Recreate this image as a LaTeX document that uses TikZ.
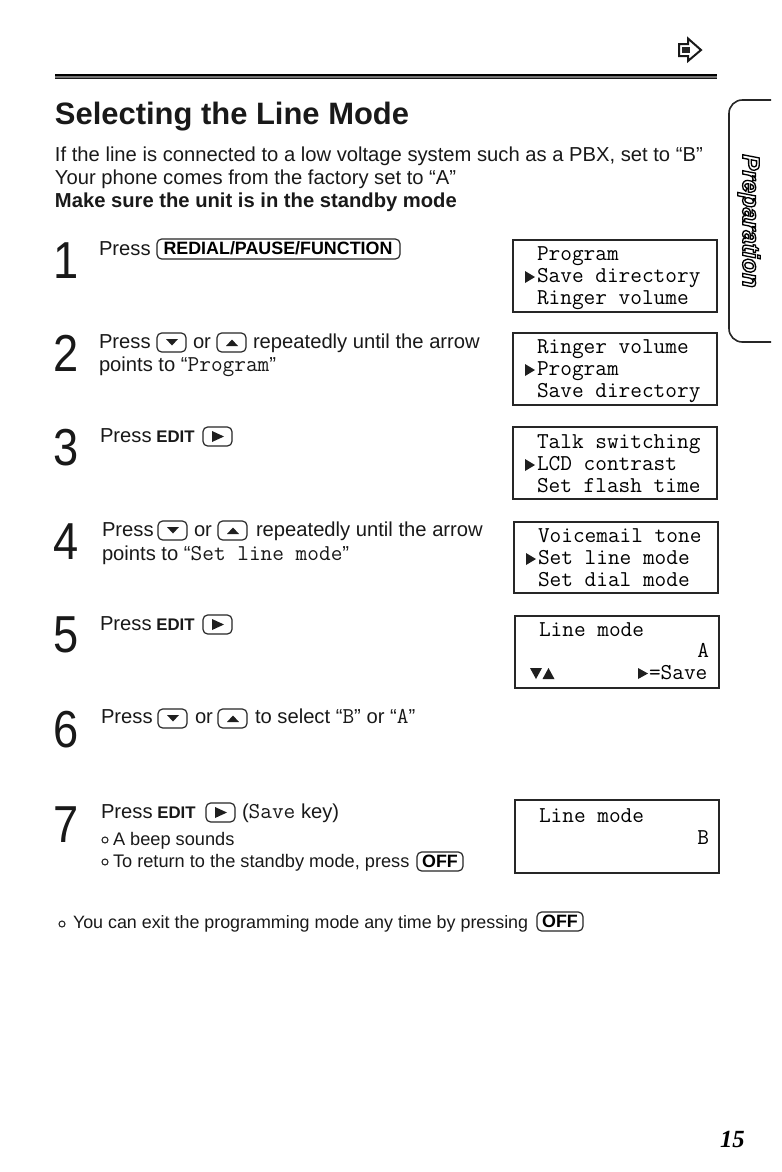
\documentclass[tikz,border=0pt]{standalone}
\usepackage{fontspec}
\setmainfont{Liberation Sans}
\newfontfamily\serifnum{Liberation Serif}
\newfontfamily\numfont[FakeStretch=0.87]{Liberation Sans}
\newcommand{\im}[1]{{\fontsize{17pt}{16pt}\selectfont\ttfamily #1}}
\newcommand{\ed}{{\fontsize{12.6pt}{16pt}\selectfont\bfseries EDIT}}
\tikzset{
  x=0.75pt,y=-0.75pt,
  txt/.style={anchor=base west,inner sep=0pt,outer sep=0pt,font=\fontsize{15.15pt}{16pt}\selectfont,text=black!90},
  title/.style={txt,font=\fontsize{23.2pt}{26pt}\selectfont\bfseries},
  small/.style={txt,font=\fontsize{13.65pt}{15pt}\selectfont},
  monot/.style={txt,font=\fontsize{17pt}{16pt}\selectfont\ttfamily,text=black},
  num/.style={txt,font=\fontsize{39pt}{40pt}\selectfont\numfont},
  lcd/.style={draw=black!85,line width=1pt},
  keybox/.style={draw=black!85,line width=0.9pt,rounded corners=3.5pt},
  keylabel/.style={anchor=base,inner sep=0pt,font=\fontsize{13.4pt}{15pt}\selectfont\bfseries},
  tri/.style={fill=black!88},
  ring/.style={draw=black!85,line width=0.8pt,circle,inner sep=0pt,minimum size=4.5pt},
}
\newcommand{\keydown}[3]{%
  \draw[keybox] (#2,#3) rectangle ++(29,19);
  \fill[tri] (#2+9,#3+6) -- ++(12,0) -- ++(-6,6.5) -- cycle;
}
\newcommand{\keyup}[3]{%
  \draw[keybox] (#2,#3) rectangle ++(29,19);
  \fill[tri] (#2+9,#3+13) -- ++(12,0) -- ++(-6,-6.5) -- cycle;
}
\newcommand{\keyright}[3]{%
  \draw[keybox] (#2,#3) rectangle ++(29,19);
  \fill[tri] (#2+9,#3+4) -- ++(0,11) -- ++(12,-5.5) -- cycle;
}
\begin{document}
\begin{tikzpicture}
\useasboundingbox (0,0) rectangle (782,1172);
\fill[white] (0,0) rectangle (782,1172);

% top icon and rule
\draw[line width=1.5pt,black!90,line join=miter] (679,44) -- (688,44) -- (688,38.5) -- (701,50) -- (688,61) -- (688,56) -- (679,56) -- cycle;
\fill[black!85] (682,47) rectangle (690,53);
\fill[black!55] (55,74.5) rectangle (717,79);
\fill[black] (55,74) rectangle (717,75.6);
\fill[black!90] (55,78) rectangle (717,79.4);

% heading
\node[title] (heading) at (55,124) {Selecting the Line Mode};
\node[txt] (intro1) at (55,161) {If the line is connected to a low voltage system such as a PBX, set to “B”};
\node[txt] (intro2) at (55,184) {Your phone comes from the factory set to “A”};
\node[txt,font=\fontsize{15.15pt}{16pt}\selectfont\bfseries] (intro3) at (55,207) {Make sure the unit is in the standby mode};

% step 1
\node[num] (n1) at (53,278) {1};
\node[txt] (s1) at (99,255) {Press};
\draw[keybox] (157,239) rectangle (400,259);
\node[keylabel] (k1) at (278,254.5) {REDIAL/PAUSE/FUNCTION};

% step 2
\node[num] (n2) at (53,371) {2};
\node[txt] (s2a) at (99,348) {Press};
\keydown{k2a}{157}{333}
\node[txt] (s2b) at (193,348) {or};
\keyup{k2b}{217}{333}
\node[txt] (s2c) at (253,348) {repeatedly until the arrow};
\node[txt] (s2d) at (99,371) {points to “\im{Program}”};

% step 3
\node[num] (n3) at (53,465) {3};
\node[txt] (s3) at (100,442) {Press\hspace{3.5pt}\ed};
\keyright{k3}{203}{427}

% step 4
\node[num] (n4) at (53,559) {4};
\node[txt] (s4a) at (102,536) {Press};
\keydown{k4a}{158}{521}
\node[txt] (s4b) at (194,536) {or};
\keyup{k4b}{218}{521}
\node[txt] (s4c) at (256,536) {repeatedly until the arrow};
\node[txt] (s4d) at (102,560) {points to “\im{Set line mode}”};

% step 5
\node[num] (n5) at (53,652) {5};
\node[txt] (s5) at (100,630) {Press\hspace{3.5pt}\ed};
\keyright{k5}{203}{615}

% step 6
\node[num] (n6) at (53,747) {6};
\node[txt] (s6a) at (101,723) {Press};
\keydown{k6a}{158}{709}
\node[txt] (s6b) at (195,723) {or};
\keyup{k6b}{218}{709}
\node[txt] (s6c) at (255,723) {to select “\im{B}” or “\im{A}”};

% step 7
\node[num] (n7) at (53,842) {7};
\node[txt] (s7a) at (101,818) {Press\hspace{3.5pt}\ed};
\keyright{k7}{206}{803}
\node[txt] (s7b) at (242,818) {(\im{Save} key)};
\node[ring] (b1) at (105,840) {};
\node[small] (s7c) at (113,845) {A beep sounds};
\node[ring] (b2) at (105,862) {};
\node[small] (s7d) at (113,867) {To return to the standby mode, press};
\draw[keybox] (417,852) rectangle (463,871);
\node[keylabel] (koff) at (440,867) {OFF};

% footer
\node[ring] (b3) at (62,924) {};
\node[small,font=\fontsize{13.4pt}{15pt}\selectfont] (foot) at (73,928) {You can exit the programming mode any time by pressing};
\draw[keybox] (537,912) rectangle (583,931);
\node[keylabel] (koff2) at (560,927) {OFF};

% LCD boxes
\draw[lcd] (513,240) rectangle (717,312);
\node[monot] (l1a) at (537,260) {Program};
\node[monot] (l1b) at (537,282) {Save directory};
\node[monot] (l1c) at (537,304) {Ringer volume};
\fill[tri] (525,271) -- ++(0,12) -- ++(10,-6) -- cycle;

\draw[lcd] (513,333) rectangle (717,405);
\node[monot] (l2a) at (537,353) {Ringer volume};
\node[monot] (l2b) at (537,375) {Program};
\node[monot] (l2c) at (537,397) {Save directory};
\fill[tri] (525,364) -- ++(0,12) -- ++(10,-6) -- cycle;

\draw[lcd] (513,427) rectangle (717,499);
\node[monot] (l3a) at (537,448) {Talk switching};
\node[monot] (l3b) at (537,470) {LCD contrast};
\node[monot] (l3c) at (537,492) {Set flash time};
\fill[tri] (525,459) -- ++(0,12) -- ++(10,-6) -- cycle;

\draw[lcd] (514,522) rectangle (718,593);
\node[monot] (l4a) at (538,542) {Voicemail tone};
\node[monot] (l4b) at (538,564) {Set line mode};
\node[monot] (l4c) at (538,586) {Set dial mode};
\fill[tri] (526,553) -- ++(0,12) -- ++(10,-6) -- cycle;

\draw[lcd] (515,616) rectangle (719,688);
\node[monot] (l5a) at (539,636) {Line mode};
\node[monot,anchor=base east] (l5b) at (709,657) {A};
\node[monot] (l5c) at (649,679) {=Save};
\fill[tri] (530,668) -- ++(12,0) -- ++(-6,11) -- cycle;
\fill[tri] (542.5,679) -- ++(12,0) -- ++(-6,-11) -- cycle;
\fill[tri] (638,668) -- ++(0,11) -- ++(10,-5.5) -- cycle;

\draw[lcd] (515,800) rectangle (719,873);
\node[monot] (l6a) at (539,822) {Line mode};
\node[monot,anchor=base east] (l6b) at (709,844) {B};

% side tab
\draw[black!85,line width=1.2pt,rounded corners=10pt] (771,100) -- (729,100) -- (729,342) -- (771,342);
\node[anchor=center,rotate=-90,inner sep=0pt,font=\fontsize{18pt}{20pt}\selectfont\bfseries\itshape] (tabtext) at (749,221)
  {\special{pdf:code 1 Tr 1 w}Preparation\special{pdf:code 0 Tr}};

% page number
\node[anchor=base east,inner sep=0pt,font=\fontsize{18.5pt}{20pt}\selectfont\serifnum\bfseries\itshape] (page) at (745,1147) {15};
\end{tikzpicture}
\end{document}
